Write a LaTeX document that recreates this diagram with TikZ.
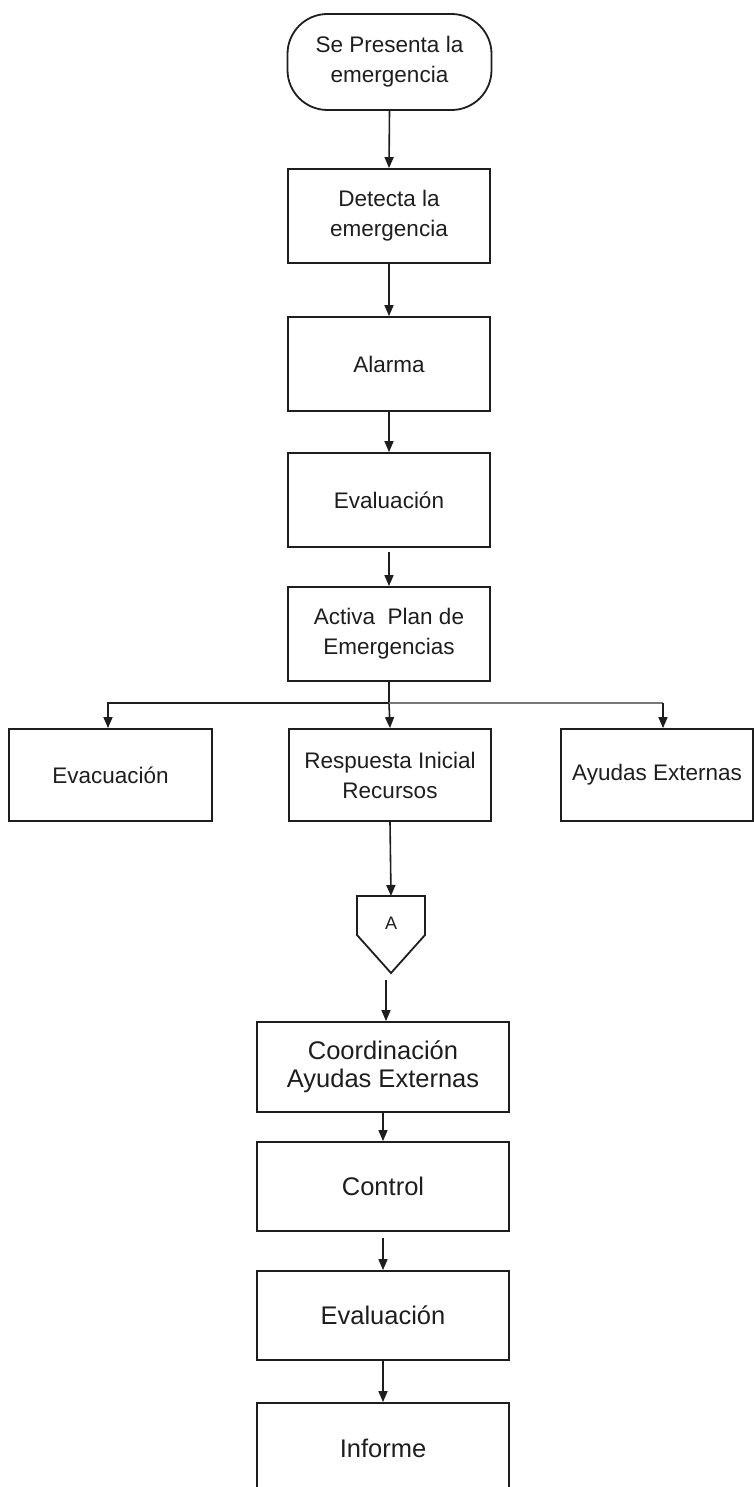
\documentclass[tikz,border=0pt]{standalone}
\usepackage{fontspec}
\setmainfont{Liberation Sans}
\usetikzlibrary{arrows.meta}
\definecolor{linegray}{RGB}{120,120,120}
\definecolor{ink}{RGB}{30,30,30}
\begin{document}
\begin{tikzpicture}[x=1pt,y=-1pt, line width=1.8pt, draw=ink, text=ink,
  box/.style={draw=ink, line width=1.8pt, rectangle, align=center, inner sep=0pt, font=\fontsize{22.5}{30}\selectfont},
  lbox/.style={draw=ink, line width=1.8pt, rectangle, align=center, inner sep=0pt, font=\fontsize{25.5}{28}\selectfont},
  arr/.style={draw=ink, line width=1.6pt, -{Triangle[length=11pt,width=9pt]}}]
\useasboundingbox (0,0) rectangle (754,1487);
\fill[white] (0,0) rectangle (754,1487);
% upper chain
\node[box, rounded corners=40pt, minimum width=204pt, minimum height=96pt] (start) at (389.5,62) {Se Presenta la\\emergencia};
\node[box, minimum width=202pt, minimum height=94pt] (detect) at (389,216) {Detecta la\\emergencia};
\node[box, minimum width=202pt, minimum height=94pt] (alarm) at (389,364) {Alarma};
\node[box, minimum width=202pt, minimum height=94pt] (evalA) at (389,500) {Evaluación};
\node[box, minimum width=202pt, minimum height=94pt] (activa) at (389,634) {Activa\ \ Plan de\\Emergencias};
% branches
\node[box, minimum width=203pt, minimum height=92pt] (evac) at (110.5,775) {Evacuación};
\node[box, minimum width=202pt, minimum height=92pt] (resp) at (390,775) {Respuesta Inicial\\Recursos};
\node[box, minimum width=192pt, minimum height=92pt] (ayud) at (657,775) {Ayudas Externas};
% off-page connector
\draw[line width=1.8pt, line join=miter] (357,896) -- (425,896) -- (425,935) -- (391,973) -- (357,935) -- cycle;
\node[font=\fontsize{18}{20}\selectfont, inner sep=0pt] (conA) at (391,923) {A};
\coordinate (ptop) at (391,896);
\coordinate (pout) at (386,980);
% lower chain
\node[lbox, minimum width=252pt, minimum height=90pt] (coord) at (383,1067) {Coordinación\\Ayudas Externas};
\node[lbox, minimum width=252pt, minimum height=89pt] (control) at (383,1186.5) {Control};
\node[lbox, minimum width=252pt, minimum height=89pt] (evalB) at (383,1315.5) {Evaluación};
\node[lbox, minimum width=252pt, minimum height=90pt] (informe) at (383,1448) {Informe};
% connectors
\draw[arr] (start.south) -- (detect.north);
\draw[arr] (detect.south) -- (alarm.north);
\draw[arr] (alarm.south) -- (evalA.north);
\draw[arr, shorten <=4pt] (evalA.south) -- (activa.north);
\coordinate (split) at (389,703);
\draw[line width=1.6pt] (activa.south) -- (split);
\draw[arr] (split) -- (resp.north);
\draw[arr] (split) -| ([xshift=-2.5pt]evac.north);
\draw[line width=2pt, linegray] (split) -- (663,703);
\draw[arr] (663,703) -- ([xshift=6pt]ayud.north);
\draw[arr] (resp.south) -- (ptop);
\draw[arr] (pout) -- (pout |- coord.north);
\draw[arr] (coord.south) -- (control.north);
\draw[arr, shorten <=6pt] (control.south) -- (evalB.north);
\draw[arr] (evalB.south) -- (informe.north);
\end{tikzpicture}
\end{document}
